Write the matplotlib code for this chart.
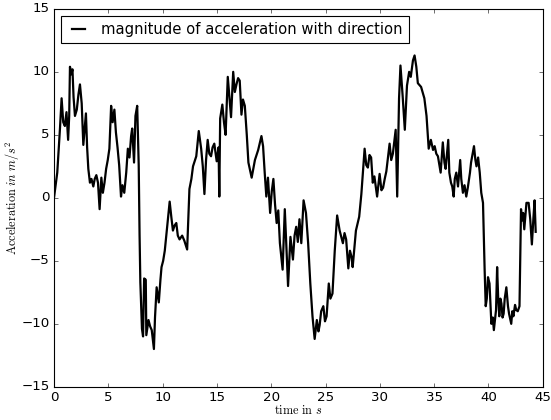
import numpy as np
import matplotlib
import matplotlib.pyplot as plt

plt.style.use('classic')
plt.rcParams['mathtext.fontset'] = 'cm'

# time (s) and acceleration (m/s^2)
time = [0.0, 0.3, 0.55, 0.7, 0.85, 1.0, 1.15, 1.3, 1.4, 1.47, 1.6, 1.7, 1.8, 1.93, 2.1, 2.25, 2.39,
        2.55, 2.7, 2.82, 2.94, 3.05, 3.16, 3.31, 3.45, 3.62, 3.75, 3.9, 4.05, 4.2, 4.36, 4.5, 4.65,
        4.8, 4.95, 5.1, 5.26, 5.4, 5.56, 5.7, 5.85, 6.0, 6.17, 6.3, 6.47, 6.65, 6.8, 6.95, 7.1,
        7.2, 7.37, 7.5, 7.66, 7.8, 7.88, 7.95, 8.1, 8.2, 8.3, 8.45, 8.5, 8.7, 8.85, 9.0, 9.2,
        9.3, 9.45, 9.65, 9.8, 9.9, 10.05, 10.2, 10.45, 10.65, 10.8, 10.95, 11.1, 11.26, 11.4,
        11.56, 11.8, 12.0, 12.26, 12.35, 12.47, 12.65, 12.8, 13.1, 13.33, 13.55, 13.7, 13.85,
        14.0, 14.15, 14.3, 14.46, 14.6, 14.76, 14.98, 15.15, 15.22, 15.3, 15.5, 15.65, 15.8,
        16.0, 16.15, 16.3, 16.5, 16.65, 16.8, 16.95, 17.1, 17.26, 17.4, 17.57, 17.75, 17.9,
        18.2, 18.5, 18.8, 19.1, 19.25, 19.4, 19.55, 19.7, 19.9, 20.05, 20.2, 20.35, 20.5,
        20.65, 20.8, 21.05, 21.25, 21.4, 21.55, 21.77, 22.0, 22.15, 22.3, 22.45, 22.6, 22.77,
        22.98, 23.2, 23.4, 23.6, 23.8, 24.0, 24.2, 24.35, 24.46, 24.6, 24.8, 24.95, 25.1,
        25.3, 25.45, 25.64, 25.85, 26.07, 26.3, 26.6, 26.75, 26.9, 27.1, 27.25, 27.4, 27.5,
        27.8, 28.1, 28.3, 28.6, 28.75, 28.9, 29.05, 29.2, 29.35, 29.5, 29.75, 29.98, 30.15,
        30.3, 30.45, 30.6, 30.9, 31.05, 31.2, 31.46, 31.6, 31.77, 31.9, 32.1, 32.3, 32.5,
        32.7, 32.85, 33.05, 33.2, 33.36, 33.5, 33.8, 34.1, 34.3, 34.5, 34.7, 34.9, 35.05,
        35.2, 35.35, 35.6, 35.8, 35.95, 36.06, 36.2, 36.3, 36.4, 36.55, 36.67, 36.8, 36.9,
        37.04, 37.2, 37.4, 37.5, 37.65, 37.8, 37.96, 38.1, 38.3, 38.4, 38.55, 38.67, 38.8,
        38.9, 39.05, 39.2, 39.34, 39.5, 39.65, 39.75, 39.85, 39.96, 40.1, 40.27, 40.4, 40.5,
        40.7, 40.8, 40.9, 41.0, 41.1, 41.2, 41.3, 41.4, 41.5, 41.65, 41.8, 41.9, 42.1, 42.2,
        42.3, 42.45, 42.56, 42.7, 42.86, 43.0, 43.1, 43.2, 43.3, 43.5, 43.7, 43.85, 44.0,
        44.15, 44.25, 44.35]
accel = [0.0, 2.0, 5.5, 7.9, 6.0, 5.7, 6.8, 4.6, 6.5, 10.4, 9.8, 10.2, 8.0, 6.5, 7.0, 8.2, 9.0,
         7.5, 4.2, 5.5, 6.7, 4.0, 2.3, 1.2, 1.5, 0.9, 1.5, 1.8, 1.2, -0.9, 1.6, 0.4, 1.2,
         2.3, 3.0, 3.9, 7.3, 6.0, 7.0, 5.2, 4.0, 2.6, 0.1, 1.0, 0.4, 2.0, 3.9, 3.2, 4.9,
         5.5, 2.8, 6.5, 7.3, 2.6, -3.0, -6.7, -10.4, -11.0, -6.4, -6.5, -10.9, -9.7, -10.2, -10.5, -12.0,
         -9.5, -7.1, -8.3, -6.5, -5.5, -5.0, -4.2, -2.0, -0.3, -1.5, -2.6, -2.2, -2.0, -3.0,
         -3.3, -3.0, -3.4, -4.1, -2.0, 0.7, 1.5, 2.5, 3.3, 5.3, 3.9, 2.5, 0.3,
         3.0, 4.6, 3.5, 3.3, 4.0, 4.3, 2.9, 4.0, 0.1, 6.3, 7.4, 6.0, 5.0,
         9.6, 8.0, 6.4, 10.0, 8.4, 9.0, 9.5, 9.3, 6.6, 7.8, 7.3, 5.0, 2.8,
         1.6, 3.0, 3.8, 4.9, 4.1, 2.0, 0.1, 1.6, -1.2, 0.5, 1.5, -0.5, -2.0,
         -1.0, -3.6, -5.7, -0.9, -4.0, -7.0, -3.1, -4.9, -3.0, -2.3, -3.5, -1.7, -3.6,
         -0.2, -1.2, -3.6, -6.8, -9.4, -11.2, -9.7, -10.6, -10.1, -9.0, -8.6, -9.8, -9.4,
         -6.8, -8.0, -7.6, -4.2, -1.4, -2.6, -3.6, -2.8, -3.3, -5.6, -4.2, -4.7, -5.5,
         -2.6, -1.5, 0.3, 3.9, 2.6, 2.4, 3.4, 3.2, 1.2, 1.7, 0.1, 1.9, 0.6,
         0.8, 1.5, 2.1, 4.3, 3.0, 3.5, 5.4, 0.1, 7.9, 10.5, 8.1, 5.4, 8.9,
         10.0, 9.6, 10.9, 11.3, 10.4, 9.1, 8.8, 7.9, 6.5, 3.9, 4.6, 3.8, 4.1,
         3.5, 3.3, 2.0, 4.4, 2.8, 2.3, 3.6, 4.6, 2.0, 1.2, 0.9, 0.1, 1.5,
         2.0, 0.9, 3.0, 1.5, 0.4, 1.0, 0.1, 0.8, 2.0, 2.8, 3.5, 4.1, 3.0,
         2.5, 3.2, 2.0, 0.4, -0.4, -5.7, -8.6, -8.0, -6.3, -6.8, -10.0, -9.5, -10.5,
         -8.9, -5.5, -8.0, -9.4, -8.0, -8.4, -9.5, -9.2, -8.0, -7.1, -8.6, -9.2, -10.0, -9.0,
         -9.4, -8.5, -8.9, -9.0, -8.6, -0.9, -1.8, -1.2, -2.5, -0.4, -0.4, -1.7, -3.7,
         -1.5, -0.2, -2.7]

fig = plt.figure(figsize=(551 / 80.0, 420 / 80.0), dpi=80)
ax = fig.add_axes([0.098, 0.079, 0.887, 0.9])
ax.plot(time, accel, color='k', linewidth=2, label='magnitude of acceleration with direction')
ax.set_xlim(0, 45)
ax.set_ylim(-15, 15)
ax.set_xlabel(r'$\mathrm{time\ in}\ s$', fontsize=11, labelpad=0)
ax.set_ylabel(r'$\mathrm{Acceleration}\ in\ m/s^2$', fontsize=11, labelpad=0)
ax.legend(loc='upper left', fontsize=13.3, handlelength=1.5, borderaxespad=0.5)
fig.savefig('out.png', dpi=80)
